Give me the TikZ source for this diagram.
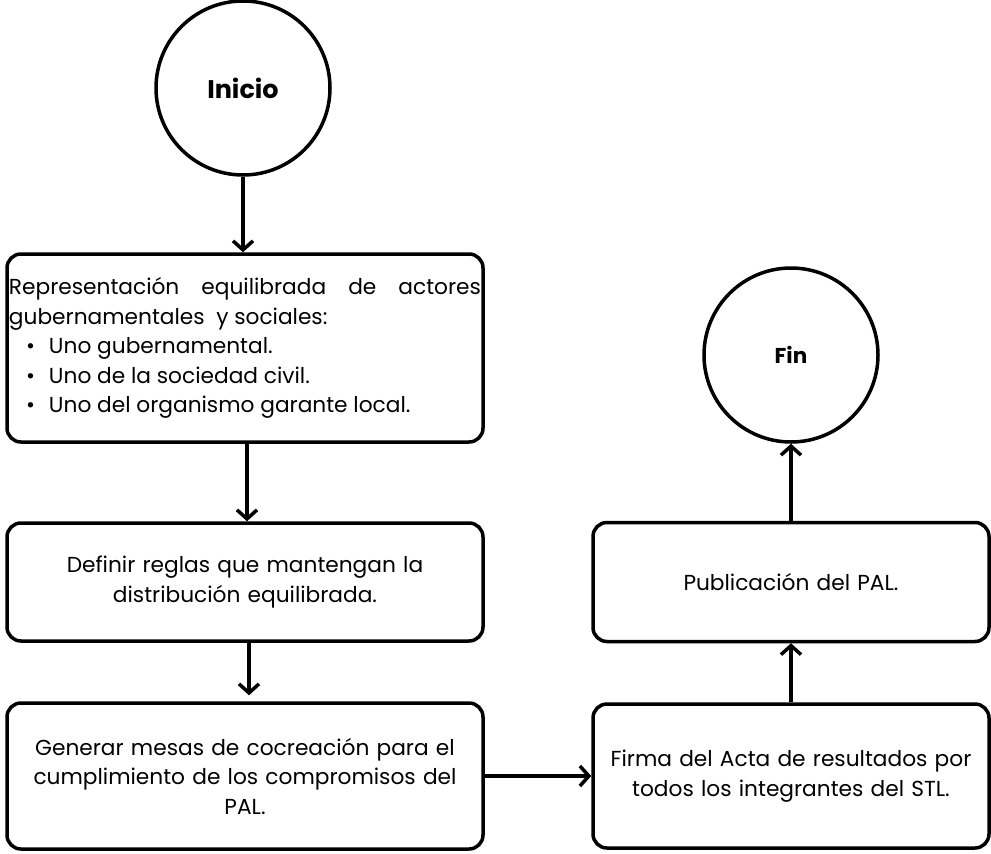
\documentclass[tikz,border=0pt]{standalone}
\usepackage{fontspec}
\setmainfont{Poppins}
\usepackage{enumitem}
\usetikzlibrary{arrows.meta,positioning}
\setlength{\parindent}{0pt}

\tikzset{
	caja/.style={draw, line width=3.5pt, rounded corners=14pt, align=center, inner sep=2pt,
		font=\fontsize{21.7}{29.5}\selectfont},
	circulo/.style={draw, circle, line width=3.5pt, minimum size=174pt, inner sep=0pt},
	flecha/.style={line width=3.5pt, -{Straight Barb[length=9pt,width=20pt]}}
}

\begin{document}
\begin{tikzpicture}[x=1pt,y=-1pt]
	\useasboundingbox (0,0) rectangle (991,854);
	% inicio y fin
	\node[circulo, font=\bfseries\fontsize{25.5}{30}\selectfont] (inicio) at (243,88) {Inicio};
	\node[circulo, font=\bfseries\fontsize{21.5}{26}\selectfont] (fin) at (791,355) {Fin};

	% columna izquierda
	\node[caja, minimum width=476pt, minimum height=188pt, text width=472pt, align=justify] (rep) at (245,348)
		{Representación equilibrada de actores\linebreak gubernamentales\ \ y sociales:
		\begin{itemize}[nosep, leftmargin=40pt, labelsep=14pt]
			\item Uno gubernamental.
			\item Uno de la sociedad civil.
			\item Uno del organismo garante local.
		\end{itemize}};
	\node[caja, minimum width=476pt, minimum height=118pt, text width=460pt] (reglas) at (245,582)
		{Definir reglas que mantengan la\\ distribución equilibrada.};
	\node[caja, minimum width=476pt, minimum height=146pt, text width=460pt] (mesas) at (245,776)
		{Generar mesas de cocreación para el\\ cumplimiento de los compromisos del\\ PAL.};

	% columna derecha
	\node[caja, minimum width=396pt, minimum height=144pt, text width=390pt] (firma) at (791,776)
		{Firma del Acta de resultados por\\ todos los integrantes del STL.};
	\node[caja, minimum width=396pt, minimum height=119pt, text width=390pt] (publ) at (791,582)
		{Publicación del PAL.};

	% flechas
	\draw[flecha] (inicio) -- (inicio |- rep.north);
	\draw[flecha] ([xshift=2pt]rep.south) -- ([xshift=2pt]rep.south |- reglas.north);
	\draw[flecha, shorten >=6pt] ([xshift=4pt]reglas.south) -- ([xshift=4pt]reglas.south |- mesas.north);
	\draw[flecha] (mesas) -- (firma);
	\draw[flecha] (firma) -- (publ);
	\draw[flecha] (publ) -- (fin);
\end{tikzpicture}
\end{document}
